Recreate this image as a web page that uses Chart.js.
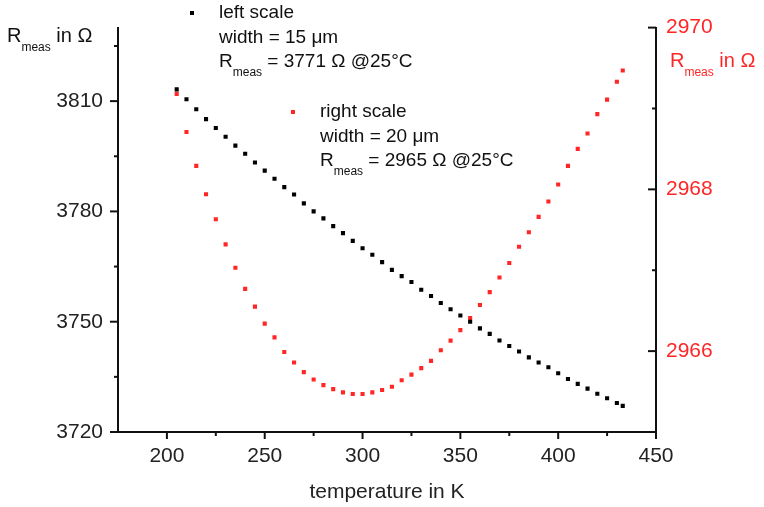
<!DOCTYPE html>
<html>
<head>
<meta charset="utf-8">
<script src="https://cdn.jsdelivr.net/npm/chart.js@4.4.0/dist/chart.umd.min.js"></script>
<style>
  html, body { margin: 0; padding: 0; background: #fff; }
</style>
</head>
<body>
<canvas id="grafico" width="764" height="507"></canvas>
<script>
// temperatura em K (eixo x)
const temperaturas = [205, 210, 215, 220, 225, 230, 235, 240, 245, 250, 255, 260, 265, 270, 275, 280,
  285, 290, 295, 300, 305, 310, 315, 320, 325, 330, 335, 340, 345, 350, 355, 360, 365, 370, 375, 380,
  385, 390, 395, 400, 405, 410, 415, 420, 425, 430, 433];

// largura 15 um, escala da esquerda
const resistEsquerda = [3813.2, 3810.5, 3807.8, 3805.1, 3802.7, 3800.3, 3797.9, 3795.7, 3793.3, 3791.1,
  3788.9, 3786.6, 3784.6, 3782.2, 3780.0, 3778.1, 3776.0, 3774.1, 3772.0, 3770.0, 3768.2, 3766.2, 3764.1,
  3762.4, 3760.8, 3758.7, 3757.0, 3755.1, 3753.4, 3751.7, 3750.0, 3748.2, 3746.7, 3744.9, 3743.4, 3741.9,
  3740.3, 3738.9, 3737.6, 3736.0, 3734.4, 3733.1, 3731.8, 3730.4, 3729.2, 3727.9, 3727.1];

// largura 20 um, escala da direita
const resistDireita = [2969.18, 2968.71, 2968.29, 2967.94, 2967.63, 2967.32, 2967.03, 2966.77, 2966.55,
  2966.34, 2966.17, 2965.99, 2965.86, 2965.74, 2965.65, 2965.58, 2965.53, 2965.49, 2965.47, 2965.47,
  2965.49, 2965.52, 2965.56, 2965.64, 2965.71, 2965.79, 2965.88, 2966.01, 2966.13, 2966.26, 2966.41,
  2966.57, 2966.73, 2966.91, 2967.09, 2967.29, 2967.47, 2967.66, 2967.85, 2968.06, 2968.29, 2968.50,
  2968.69, 2968.93, 2969.11, 2969.33, 2969.47];

const ticksX = [200, 250, 300, 350, 400, 450];
const ticksXMenores = [225, 275, 325, 375, 425];
const ticksEsq = [3720, 3750, 3780, 3810];
const ticksEsqMenores = [3735, 3765, 3795, 3825];
const ticksDir = [2966, 2968, 2970];
const ticksDirMenores = [2967, 2969];

const VERMELHO = '#ff2626';
const PRETO = '#111';
const FONTE = '"Liberation Sans", Arial, sans-serif';

const pontosEsq = temperaturas.map((t, i) => ({ x: t, y: resistEsquerda[i] }));
const pontosDir = temperaturas.map((t, i) => ({ x: t, y: resistDireita[i] }));

// tracos maiores e menores dos eixos
const tracosEixos = {
  id: 'tracosEixos',
  afterDraw(chart) {
    const { ctx, chartArea, scales } = chart;
    const traco = (x1, y1, x2, y2) => {
      ctx.beginPath();
      ctx.moveTo(x1, y1);
      ctx.lineTo(x2, y2);
      ctx.stroke();
    };
    ctx.save();
    ctx.strokeStyle = PRETO;
    ctx.lineWidth = 2;

    ticksX.forEach(v => { const p = scales.x.getPixelForValue(v); traco(p, chartArea.bottom, p, chartArea.bottom + 7); });
    ticksXMenores.forEach(v => { const p = scales.x.getPixelForValue(v); traco(p, chartArea.bottom, p, chartArea.bottom + 4); });

    ticksEsq.forEach(v => { const p = scales.yEsq.getPixelForValue(v); traco(chartArea.left - 8, p, chartArea.left, p); });
    ticksEsqMenores.forEach(v => { const p = scales.yEsq.getPixelForValue(v); traco(chartArea.left - 4, p, chartArea.left, p); });

    ticksDir.forEach(v => { const p = scales.yDir.getPixelForValue(v); traco(chartArea.right - 8, p, chartArea.right, p); });
    ticksDirMenores.forEach(v => { const p = scales.yDir.getPixelForValue(v); traco(chartArea.right - 4, p, chartArea.right, p); });
    ctx.restore();
  }
};

// R com subscrito "meas"
function escreverRmeas(ctx, x, y, cor, resto, tam) {
  ctx.fillStyle = cor;
  ctx.textBaseline = 'middle';
  ctx.textAlign = 'left';
  ctx.font = `${tam}px ${FONTE}`;
  ctx.fillText('R', x, y);
  let cx = x + ctx.measureText('R').width;
  ctx.font = `${Math.round(tam * 0.62)}px ${FONTE}`;
  ctx.fillText('meas', cx, y + tam * 0.58);
  cx += ctx.measureText('meas').width;
  ctx.font = `${tam}px ${FONTE}`;
  ctx.fillText(resto, cx, y);
}

const textos = {
  id: 'textos',
  afterDraw(chart) {
    const { ctx } = chart;
    ctx.save();

    // titulos dos eixos y
    escreverRmeas(ctx, 7, 36, PRETO, ' in Ω', 20);
    escreverRmeas(ctx, 670, 61, VERMELHO, ' in Ω', 20);

    // titulo do eixo x
    ctx.font = `21px ${FONTE}`;
    ctx.fillStyle = '#222';
    ctx.textAlign = 'center';
    ctx.textBaseline = 'middle';
    ctx.fillText('temperature in K', chart.scales.x.getPixelForValue(312.5), 492);

    // legenda
    ctx.fillStyle = '#000';
    ctx.fillRect(190, 11, 4, 4);
    ctx.fillStyle = VERMELHO;
    ctx.fillRect(291, 110, 4, 4);

    ctx.font = `19px ${FONTE}`;
    ctx.fillStyle = PRETO;
    ctx.textAlign = 'left';
    ctx.textBaseline = 'middle';
    ctx.fillText('left scale', 219, 13);
    ctx.fillText('width = 15 μm', 219, 38);
    escreverRmeas(ctx, 219, 62, PRETO, ' = 3771 Ω @25°C', 19);

    ctx.font = `19px ${FONTE}`;
    ctx.fillStyle = PRETO;
    ctx.fillText('right scale', 320, 112);
    ctx.fillText('width = 20 μm', 320, 137);
    escreverRmeas(ctx, 320, 161, PRETO, ' = 2965 Ω @25°C', 19);

    ctx.restore();
  }
};

const rotulo = v => String(v);

new Chart(document.getElementById('grafico').getContext('2d'), {
  type: 'scatter',
  data: {
    datasets: [
      {
        label: 'left scale',
        data: pontosEsq,
        yAxisID: 'yEsq',
        pointStyle: 'rect',
        pointRadius: 2.9,
        pointBorderWidth: 0,
        backgroundColor: '#000',
        borderColor: '#000'
      },
      {
        label: 'right scale',
        data: pontosDir,
        yAxisID: 'yDir',
        pointStyle: 'rect',
        pointRadius: 2.9,
        pointBorderWidth: 0,
        backgroundColor: VERMELHO,
        borderColor: VERMELHO
      }
    ]
  },
  options: {
    responsive: false,
    animation: false,
    devicePixelRatio: 1,
    layout: { padding: { top: 25, left: 0, right: 0, bottom: 0 } },
    plugins: {
      legend: { display: false },
      tooltip: { enabled: false }
    },
    scales: {
      x: {
        type: 'linear',
        min: 175,
        max: 450,
        afterBuildTicks: s => { s.ticks = ticksX.map(v => ({ value: v })); },
        afterFit: s => { s.height = 75; },
        grid: { display: false, drawTicks: false },
        border: { display: true, color: PRETO, width: 2 },
        ticks: { color: '#222', font: { family: FONTE, size: 21 }, padding: 12, maxRotation: 0, autoSkip: false, callback: rotulo }
      },
      yEsq: {
        type: 'linear',
        position: 'left',
        min: 3720,
        max: 3830,
        afterBuildTicks: s => { s.ticks = ticksEsq.map(v => ({ value: v })); },
        afterFit: s => { s.width = 118; },
        grid: { display: false, drawTicks: false },
        border: { display: true, color: PRETO, width: 2 },
        ticks: { color: '#222', font: { family: FONTE, size: 21 }, padding: 15, callback: rotulo }
      },
      yDir: {
        type: 'linear',
        position: 'right',
        min: 2965,
        max: 2970,
        afterBuildTicks: s => { s.ticks = ticksDir.map(v => ({ value: v })); },
        afterFit: s => { s.width = 108; },
        grid: { display: false, drawTicks: false },
        border: { display: true, color: PRETO, width: 2 },
        ticks: { color: VERMELHO, font: { family: FONTE, size: 21 }, padding: 10, callback: rotulo }
      }
    }
  },
  plugins: [tracosEixos, textos]
});
</script>
</body>
</html>
